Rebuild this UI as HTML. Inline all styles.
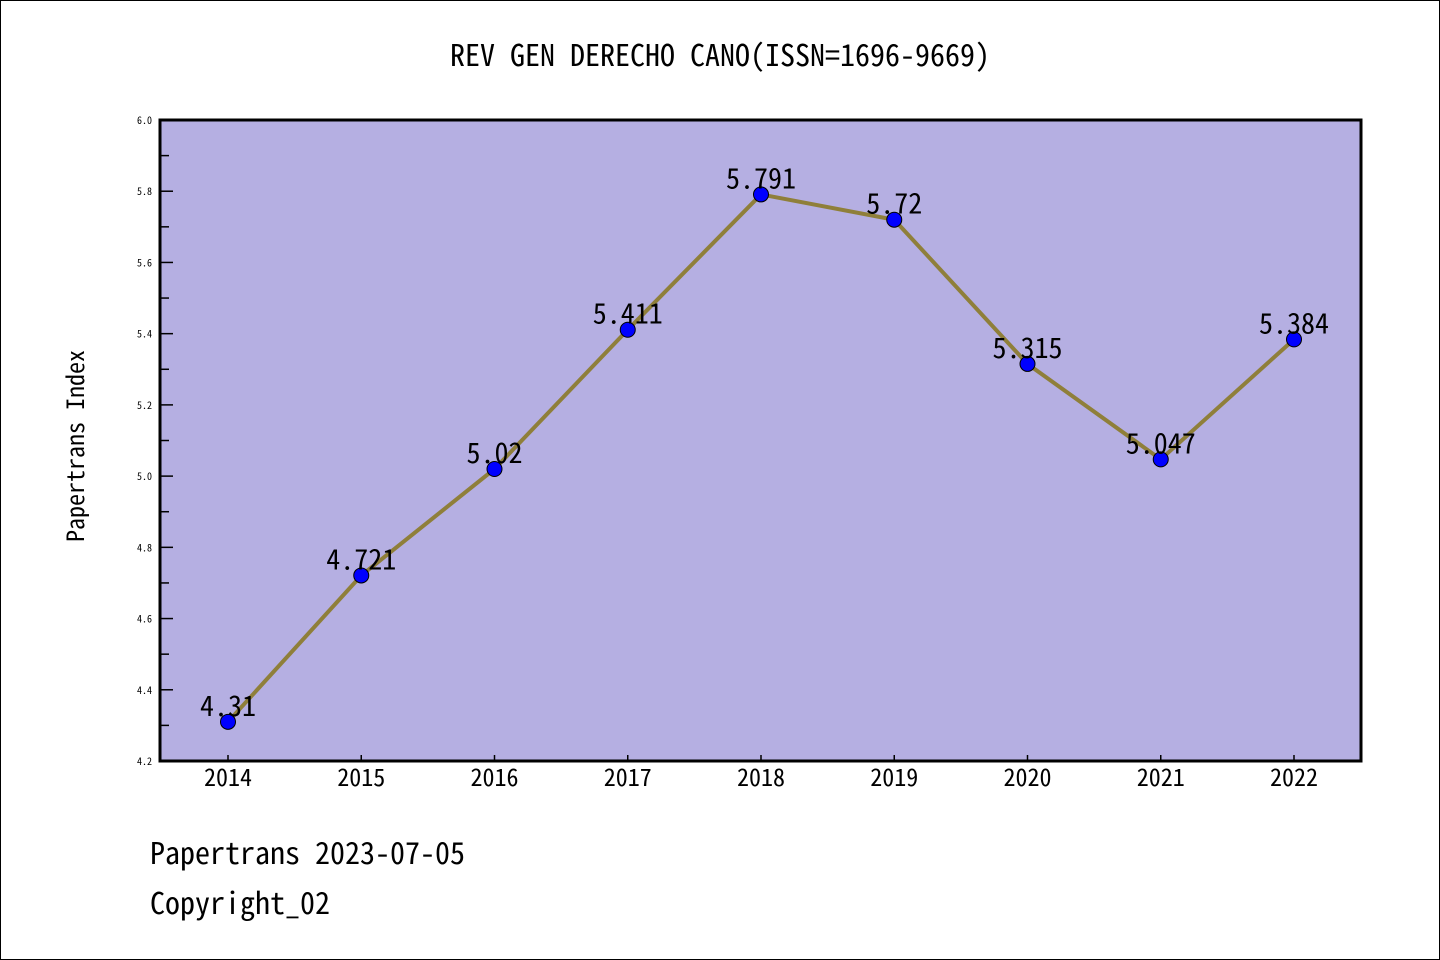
<!DOCTYPE html>
<html><head><meta charset="utf-8"><style>
body{margin:0;background:#fff}
svg{display:block}
text{font-family:"WenQuanYi Zen Hei Mono","Noto Sans Mono CJK SC","WenQuanYi Zen Hei","Noto Sans CJK SC",monospace}
</style></head><body>
<svg id="c" width="1440" height="960">
<rect x="0.5" y="0.5" width="1439" height="959" fill="#fff" stroke="#000"/>
<text x="720" y="66" font-size="30" text-anchor="middle">REV GEN DERECHO CANO(ISSN=1696-9669)</text>
<rect x="160" y="120" width="1201" height="641" fill="#b5afe2"/>
<g id="yax"></g>
<g id="xax"></g>
<g id="series"></g>
<rect x="160" y="120" width="1201" height="641" fill="none" stroke="#000" stroke-width="3"/>
<text transform="translate(84,446) rotate(-90)" font-size="24" text-anchor="middle">Papertrans Index</text>
<text x="150" y="864" font-size="30">Papertrans 2023-07-05</text>
<text x="150" y="914" font-size="30">Copyright_02</text>
</svg>
<script>
const years=["2014","2015","2016","2017","2018","2019","2020","2021","2022"];
const values=[4.31,4.721,5.02,5.411,5.791,5.72,5.315,5.047,5.384];
const labels=["4.31","4.721","5.02","5.411","5.791","5.72","5.315","5.047","5.384"];
const yTicks=["4.2","4.4","4.6","4.8","5.0","5.2","5.4","5.6","5.8","6.0"];
const NS="http://www.w3.org/2000/svg";
const yMin=4.2,yMax=6.0,yTop=120,yBot=761;
function ys(v){return yBot-(v-yMin)/(yMax-yMin)*(yBot-yTop);}
function xs(i){return 228+i*(1294-228)/(years.length-1);}
function mk(t,a,p){const e=document.createElementNS(NS,t);for(const k in a)e.setAttribute(k,a[k]);p.appendChild(e);return e;}
const yax=document.getElementById('yax'),xax=document.getElementById('xax'),ser=document.getElementById('series');
yTicks.forEach((t,i)=>{
  const v=parseFloat(t),y=ys(v);
  const l=mk('line',{x1:160,x2:173,y1:y,y2:y,stroke:'#000','stroke-width':1.5},yax);
  
  
  if(i<yTicks.length-1){const ym=ys(v+0.1);const m=mk('line',{x1:160,x2:169,y1:ym,y2:ym,stroke:'#000','stroke-width':1.5},yax);
  
  }
  const tx=mk('text',{x:152,y:y+4,'font-size':10,'text-anchor':'end'},yax);tx.textContent=t;
  
  
});
years.forEach((yr,i)=>{
  const x=xs(i);
  const l=mk('line',{x1:x,x2:x,y1:yBot,y2:yBot-6,stroke:'#000','stroke-width':1.5},xax);
  
  
  const t=mk('text',{x:x,y:786,'font-size':24,'text-anchor':'middle'},xax);t.textContent=yr;
  
  
});
const pl=mk('polyline',{points:values.map((v,i)=>xs(i)+','+ys(v)).join(' '),fill:'none',stroke:'#8f7f3a','stroke-width':4},ser);


values.forEach((v,i)=>{
  const c=mk('circle',{cx:xs(i),cy:ys(v),r:7.5,fill:'#0000ff',stroke:'#000','stroke-width':1},ser);
  
  
  const t=mk('text',{x:xs(i),y:ys(v)-6,'font-size':28,'text-anchor':'middle'},ser);t.textContent=labels[i];
  
  
});
</script>
</body></html>
